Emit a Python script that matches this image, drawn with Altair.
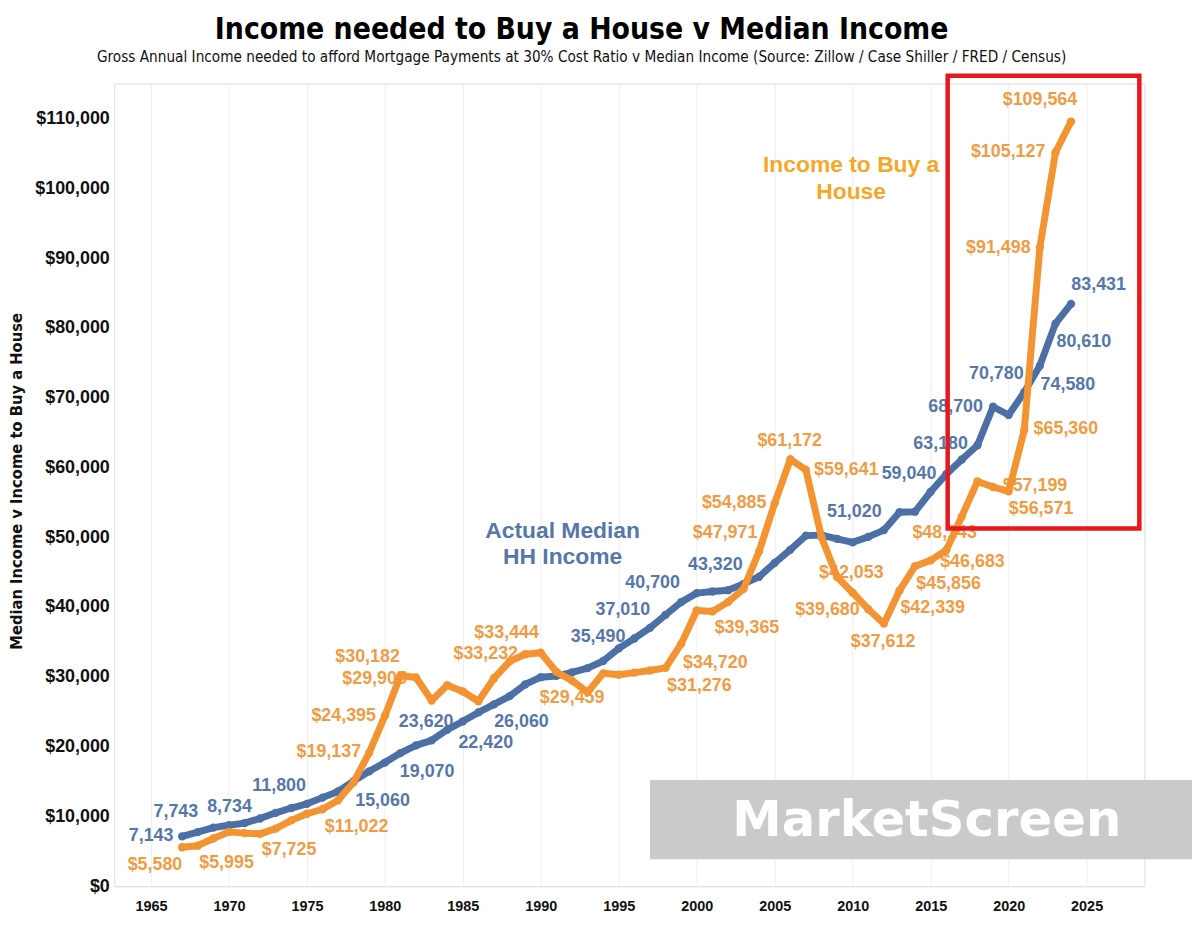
import altair as alt
import pandas as pd

# ---------------- data ----------------
years = list(range(1967, 2025))
median_income = [7143, 7743, 8389, 8734, 9028, 9697, 10512, 11197, 11800, 12686,
                 13572, 15060, 16461, 17710, 19070, 20171, 20885, 22420, 23620, 24897,
                 26060, 27225, 28906, 29943, 30126, 30636, 31241, 32264, 34076, 35490,
                 37010, 38885, 40700, 41990, 42228, 42409, 43320, 44334, 46326, 48201,
                 50233, 50303, 49777, 49276, 50054, 51020, 53585, 53657, 56516, 59040,
                 61136, 63180, 68700, 67521, 70780, 74580, 80610, 83431]
income_needed = [5580, 5800, 6830, 7780, 7600, 7500, 8250, 9430, 10380, 11022,
                 12300, 14900, 19137, 24395, 30182, 29905, 26600, 28800, 27900, 26500,
                 29800, 32200, 33232, 33444, 30700, 29459, 27800, 30500, 30300, 30600,
                 30900, 31276, 34720, 39500, 39365, 40700, 42600, 47971, 54885, 61172,
                 59641, 50000, 44300, 42053, 39680, 37612, 42339, 45856, 46683, 48143,
                 53000, 58000, 57199, 56571, 65360, 91498, 105127, 109564]

x_ticks = [1965, 1970, 1975, 1980, 1985, 1990, 1995, 2000, 2005, 2010, 2015, 2020, 2025]
y_ticks = [0, 10000, 20000, 30000, 40000, 50000, 60000, 70000, 80000, 90000, 100000, 110000]

# data labels (text, and where the label sits in data units)
blue_label_text = ["7,143", "7,743", "8,734", "11,800", "15,060", "19,070", "23,620", "22,420",
                   "26,060", "35,490", "37,010", "40,700", "43,320", "51,020", "59,040",
                   "63,180", "68,700", "70,780", "74,580", "80,610", "83,431"]
blue_label_year = [1965.01, 1966.60, 1970.04, 1973.22, 1979.85, 1982.71, 1982.65, 1986.47,
                   1988.76, 1993.67, 1995.26, 1997.17, 2001.19, 2010.10, 2013.61,
                   2015.64, 2016.60, 2019.21, 2023.80, 2024.82, 2025.77]
blue_label_value = [7116, 10674, 11386, 14375, 12240, 16367, 23484, 20495,
                    23484, 35724, 39567, 43410, 45971, 53657, 59066,
                    63335, 68602, 73441, 71875, 77995, 86108]

orange_label_text = ["$5,580", "$5,995", "$7,725", "$11,022", "$19,137", "$24,395", "$30,182",
                     "$29,905", "$33,444", "$33,232", "$29,459", "$31,276", "$34,720", "$39,365",
                     "$47,971", "$54,885", "$61,172", "$59,641", "$42,053", "$39,680", "$37,612",
                     "$42,339", "$45,856", "$46,683", "$48,143", "$57,199", "$56,571", "$65,360",
                     "$91,498", "$105,127", "$109,564"]
orange_label_year = [1965.26, 1969.85, 1973.86, 1978.19, 1976.41, 1977.36, 1978.89,
                     1979.34, 1987.81, 1986.47, 1992.01, 2000.17, 2001.19, 2003.22,
                     2001.82, 2002.40, 2005.96, 2009.59, 2009.91, 2008.38, 2011.95,
                     2015.13, 2016.15, 2017.68, 2015.90, 2021.69, 2022.08, 2023.67,
                     2019.34, 2019.97, 2022.01]
orange_label_value = [2989, 3274, 5124, 8540, 19214, 24338, 32877,
                      29746, 36293, 33304, 26900, 28608, 32024, 37005,
                      50668, 54938, 63762, 59635, 44833, 39567, 35012,
                      39851, 43267, 46398, 50668, 57358, 54084, 65470,
                      91374, 105179, 112580]

series_notes = ["Actual Median\nHH Income", "Income to Buy a\nHouse"]
series_note_year = [1991.40, 2009.90]
series_note_value = [50953, 103329]

# highlight box and watermark (data units)
box_year = [2016.09, 2028.38]
box_value = [51237, 116138]
mark_year = [1997.0, 2032.2]
mark_value = [3843, 15229]
mark_text_pos = [2014.75, 9394]

BLUE = "#4C70A6"
BLUE_TXT = "#5677A9"
ORANGE = "#F39331"
ORANGE_TXT = "#F09C45"
GOLD = "#F5A728"

# ---------------- frames ----------------
df_blue = pd.DataFrame({"year": years, "value": median_income})
df_orange = pd.DataFrame({"year": years, "value": income_needed})
df_bl = pd.DataFrame({"year": blue_label_year, "value": blue_label_value, "label": blue_label_text})
df_ol = pd.DataFrame({"year": orange_label_year, "value": orange_label_value, "label": orange_label_text})
df_note_b = pd.DataFrame({"year": [series_note_year[0]], "value": [series_note_value[0]], "label": [series_notes[0]]})
df_note_o = pd.DataFrame({"year": [series_note_year[1]], "value": [series_note_value[1]], "label": [series_notes[1]]})
df_box = pd.DataFrame({"year": [box_year[0]], "year2": [box_year[1]],
                       "value": [box_value[0]], "value2": [box_value[1]]})
df_wm = pd.DataFrame({"year": [mark_year[0]], "year2": [mark_year[1]],
                      "value": [mark_value[0]], "value2": [mark_value[1]]})
df_wmt = pd.DataFrame({"year": [mark_text_pos[0]], "value": [mark_text_pos[1]], "label": ["MarketScreen"]})

NARROW = "Liberation Sans Narrow, DejaVu Sans Condensed, Arial Narrow, sans-serif"
ARIAL = "Liberation Sans, Arial, sans-serif"

X = alt.X("year:Q",
          scale=alt.Scale(domain=[1962.65, 2028.7], nice=False, zero=False),
          axis=alt.Axis(values=x_ticks, format="d", title=None, ticks=False,
                        domain=True, domainColor="#E4E4E4", domainWidth=1,
                        grid=True, gridColor="#EFEFEF", gridWidth=1,
                        labelFont=ARIAL, labelFontSize=14.5, labelFontWeight="bold",
                        labelColor="#111111", labelPadding=13))
Y = alt.Y("value:Q",
          scale=alt.Scale(domain=[0, 115000], nice=False),
          axis=alt.Axis(values=y_ticks, format="$,.0f", ticks=False, domain=False, grid=False,
                        labelFont=ARIAL, labelFontSize=18, labelFontWeight="bold",
                        labelColor="#111111", labelPadding=5,
                        title="Median Income v Income to Buy a House",
                        titleFont=NARROW, titleFontSize=16.5, titleFontWeight="bold",
                        titleColor="#111111", titleX=-98, titleY=400, titleAngle=270,
                        titleAlign="center", titleBaseline="middle"))

lbl_kw = dict(font=ARIAL, fontWeight="bold", fontSize=18, align="center", baseline="middle")

blue_labels = alt.Chart(df_bl).mark_text(color=BLUE_TXT, **lbl_kw).encode(x=X, y=Y, text="label:N")
orange_labels = alt.Chart(df_ol).mark_text(color=ORANGE_TXT, **lbl_kw).encode(x=X, y=Y, text="label:N")

blue_line = alt.Chart(df_blue).mark_line(
    color=BLUE, strokeWidth=7, strokeJoin="round",
    point=alt.OverlayMarkDef(filled=True, size=70, color=BLUE)).encode(x=X, y=Y)
orange_line = alt.Chart(df_orange).mark_line(
    color=ORANGE, strokeWidth=7, strokeJoin="round",
    point=alt.OverlayMarkDef(filled=True, size=70, color=ORANGE)).encode(x=X, y=Y)

note_b = alt.Chart(df_note_b).mark_text(
    font=ARIAL, fontWeight="bold", fontSize=23, color=BLUE_TXT, align="center",
    baseline="middle", lineBreak="\n", lineHeight=27).encode(x=X, y=Y, text="label:N")
note_o = alt.Chart(df_note_o).mark_text(
    font=ARIAL, fontWeight="bold", fontSize=23, color=GOLD, align="center",
    baseline="middle", lineBreak="\n", lineHeight=27).encode(x=X, y=Y, text="label:N")

box = alt.Chart(df_box).mark_rect(
    fill=None, fillOpacity=0, stroke="#E8161F", strokeWidth=4.5).encode(
    x=X, x2="year2:Q", y=Y, y2="value2:Q")

wm = alt.Chart(df_wm).mark_rect(fill="#C8C8C8", opacity=0.97).encode(
    x=X, x2="year2:Q", y=Y, y2="value2:Q")
wm_text = alt.Chart(df_wmt).mark_text(
    font="DejaVu Sans, sans-serif", fontWeight="bold", fontSize=50, color="#FFFFFF",
    align="center", baseline="middle").encode(x=X, y=Y, text="label:N")

chart = alt.layer(
    blue_labels, orange_labels, blue_line, orange_line, note_b, note_o, box, wm, wm_text
).properties(
    width=1037, height=808,
    autosize=alt.AutoSizeParams(type="none"),
    padding={"left": 107, "top": 73, "right": 48, "bottom": 40},
    title=alt.TitleParams(
        text="Income needed to Buy a House v Median Income",
        subtitle="Gross Annual Income needed to afford Mortgage Payments at 30% Cost Ratio  v Median Income (Source: Zillow / Case Shiller / FRED / Census)",
        font=NARROW, fontSize=30, fontWeight="bold", color="#000000",
        subtitleFont=NARROW, subtitleFontSize=15.3, subtitleColor="#111111",
        anchor="middle", frame="group", dx=-48, offset=8, subtitlePadding=5),
).configure_view(stroke=None).configure(background="#FFFFFF")

chart.save("out.html", embed_options={"renderer": "svg", "actions": False})
